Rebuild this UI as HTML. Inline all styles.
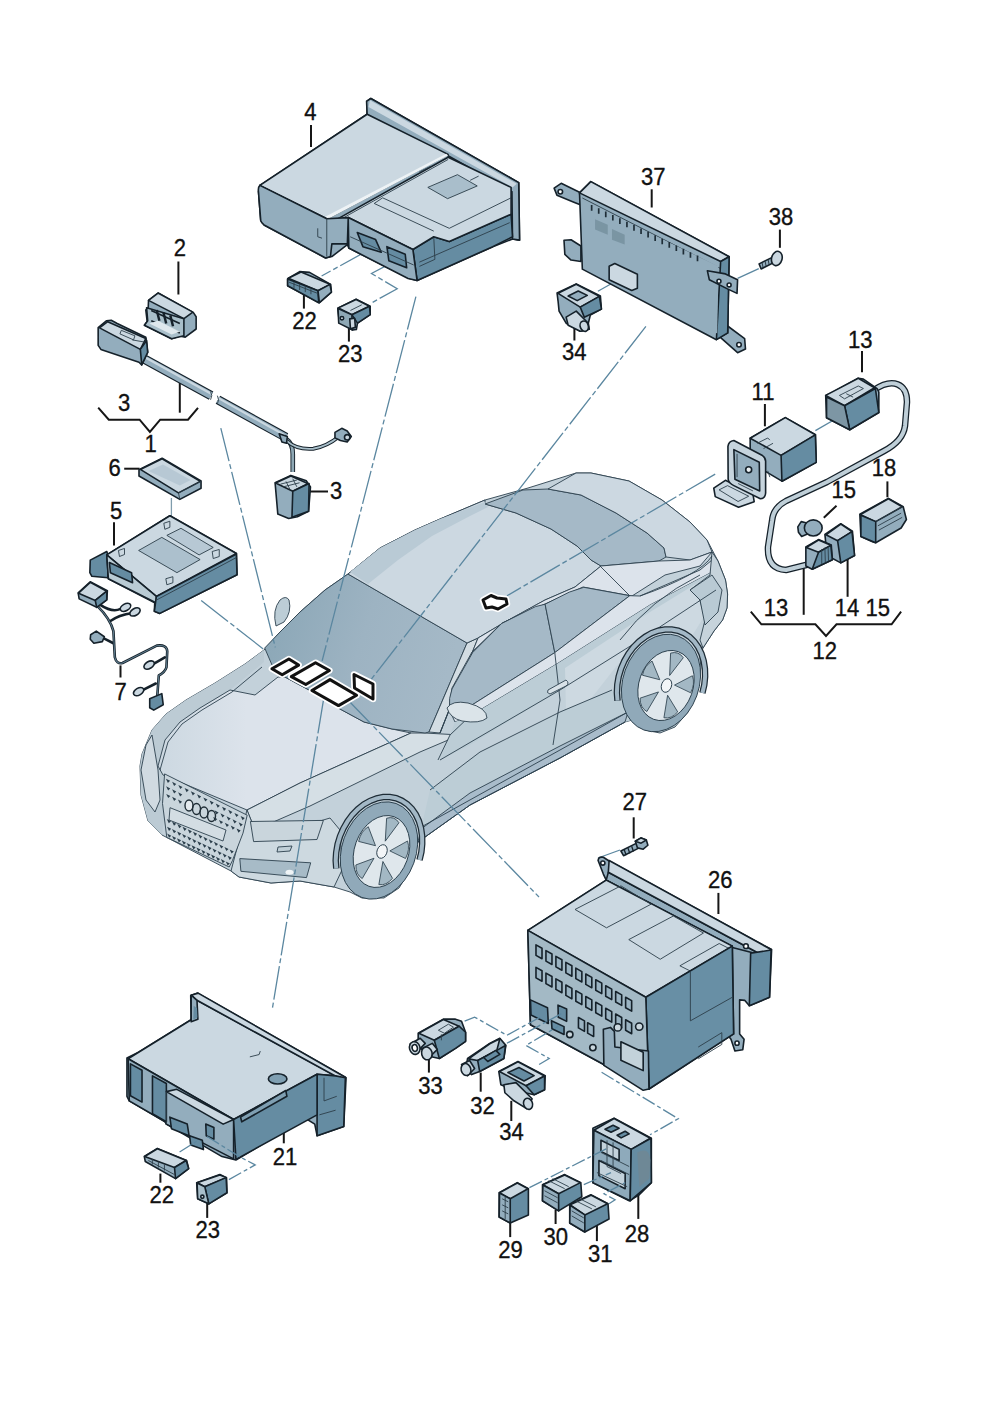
<!DOCTYPE html>
<html><head><meta charset="utf-8"><style>
html,body{margin:0;padding:0;background:#fff;}
body{width:992px;height:1403px;overflow:hidden;position:relative;}
svg{position:absolute;left:0;top:0;}
text{font-family:"Liberation Sans",sans-serif;font-size:24px;fill:#111;stroke:#111;stroke-width:0.35px;}
.o{stroke:#15212a;stroke-width:1.6;stroke-linejoin:round;vector-effect:non-scaling-stroke;}
.t{stroke:#2c3e4a;stroke-width:0.9;fill:none;vector-effect:non-scaling-stroke;}
.L{fill:#cbd8e1;}
.M{fill:#93adbd;}
.D{fill:#658ca2;}
.K{fill:#5f7785;}
.c{stroke:#2d414e;stroke-width:0.9;stroke-linejoin:round;}
.ld{stroke:#111;stroke-width:2;fill:none;}
.dl{stroke:#5f8ea5;stroke-width:1.2;fill:none;stroke-dasharray:28 4 3 4;}
</style></head><body>
<svg width="992" height="1403" viewBox="0 0 992 1403">
<g id="car">
<defs>
<linearGradient id="ws" x1="0" y1="0" x2="1" y2="0.25"><stop offset="0" stop-color="#88a5b5"/><stop offset="0.55" stop-color="#9db3c2"/><stop offset="1" stop-color="#a5b9c7"/></linearGradient>
<linearGradient id="hood" x1="0" y1="0" x2="1" y2="0"><stop offset="0" stop-color="#ccd8e1"/><stop offset="0.35" stop-color="#dce3eb"/><stop offset="1" stop-color="#dce3eb"/></linearGradient>
</defs>
<!-- silhouette -->
<path class="c" fill="#c3d1da" d="M141,795 L140,766 L142,754 L152,730 L166,714 L186,700 L215,683 L245,664 L264,650 L280,632 L300,612 L325,590 L348,574 L380,548 L415,530 L440,519 L485,500 L528,488 L576,473 L591,473 L629,481 L662,500 L690,522 L707,540 L718,561 L725.5,580 L727.6,594 L727,608 L722.6,620 L714,631 L703,648 L700,658 L701,668 L697,690 L688,712 L675,727 L660,733 L645,730 L632,720 L625,722 L560,758 L470,805 L418,842 L416,850 L410,870 L399,888 L384,898 L362,898 L350,892 L334,887 L300,881 L271,883 L239,877 L231,871 L162,835 L148,821 Z"/>
<!-- left fender -->
<path fill="#bccbd4" d="M141,795 L140,766 L142,754 L152,730 L166,714 L186,700 L215,683 L245,664 L264,650 L264,662 L230,690 L200,708 L180,722 L165,740 L158,766 L163,775 L166,800 L162,835 L148,821 Z"/>
<!-- hood -->
<path class="c" fill="url(#hood)" d="M163,775 L158,766 L165,740 L180,722 L200,708 L230,690 L255,695 L278,677 L285,677 L309,690 L340,709 L364,722 L392,729 L411,733 L300,783 L247,810 Z"/>
<path class="c" fill="none" d="M160,770 L168,742 L182,724 L202,710 L232,692 L262,667"/>
<!-- fender top strip (right of hood) -->
<path class="c" fill="#d5dfe5" d="M247,810 L300,783 L411,733 L425,733 L460,735 L420,752 L310,806 L255,830 Z"/>
<!-- windshield -->
<path class="c" fill="url(#ws)" d="M264.7,648 L280,632 L300,612 L325,590 L348,574 L467,643 L429,732 L425,733 L392,729 L364,722 L340,709 L309,690 L285,677 L272,665 Z"/>
<!-- a-pillar right -->
<path class="c" fill="#d3dde3" d="M467,643 L478,638 L440,733 L429,732 Z"/>
<!-- roof -->
<path class="c" fill="#ccd8e1" d="M348,574 L380,548 L415,530 L440,519 L485,500 L485,504 L516,513 L551,529 L577,546 L591,560 L601,566 L575,587 L545,600 L505,622 L478,638 L467,643 Z"/>
<path fill="#b9cad5" d="M350,572 L380,548 L415,530 L440,519 L485,502 L488,507 L470,516 L432,536 L398,560 L368,584 Z"/>
<!-- rear window -->
<path class="c" fill="#a5b9c7" d="M485,504 L523,490 L548,489 L581,495 L616,513 L647,533 L664,548 L666,557 L659,561 L601,566 L591,560 L577,546 L551,529 L516,513 Z"/>
<!-- trunk -->
<path class="c" fill="#ccd8e1" d="M576,473 L591,473 L629,481 L662,500 L690,522 L707,540 L712,552 L690,560 L666,557 L664,548 L647,533 L616,513 L581,495 L548,489 Z"/>
<!-- roof rail / upper side strip -->
<path class="c" fill="#dce3eb" d="M478,638 L505,622 L545,600 L575,587 L601,566 L659,561 L690,560 L712,552 L700,566 L665,575 L632,596 L583,587 L545,604 L502,623 L472,652 L452,688 L449,710 L440,733 Z"/>
<!-- side windows -->
<path class="c" fill="#a5b9c7" d="M449.6,698.5 L452,689 L472.6,652.6 L501.6,623.5 L535.5,606.6 L545.1,604.2 L554.8,652.6 L472.6,704.6 L449.6,710.6 Z"/>
<path class="c" fill="#a5b9c7" d="M545.1,604.2 L569.3,592.1 L583.8,587.3 L629.8,595.7 L554.8,652.6 Z"/>
<!-- belt strip -->
<path class="c" fill="#dce3eb" d="M449.6,710.6 L472.6,704.6 L554.8,652.6 L629.8,595.7 L640,596 L700,570 L712,560 L712,572 L650,605 L560,662 L470,716 L455,722 Z"/>
<!-- door / side panel -->
<path fill="#bccdd6" d="M455,722 L470,716 L560,662 L650,605 L712,572 L716,590 L690,612 L640,640 L560,690 L470,745 L440,760 Z"/>
<path fill="#cdd9e1" d="M565,668 L650,612 L712,574 L718,590 L705,615 L692,636 L670,630 L640,640 L615,668 L590,700 L566,712 Z"/>
<!-- lower side -->
<path fill="#bccdd6" d="M418,842 L470,805 L560,758 L625,722 L632,720 L622,700 L612,690 L560,712 L480,752 L430,790 Z"/>
<path class="c" fill="#a9bccb" d="M418,842 L470,805 L560,758 L625,722 L628,712 L560,746 L470,793 L421,829 Z"/>
<!-- rear end -->
<path class="c" fill="#c6d3db" d="M712,552 L718,561 L725.5,580 L727.6,594 L727,608 L722.6,620 L714,631 L703,648 L700,640 L705,620 L700,600 L690,590 L710,575 Z"/>
<path class="c" fill="#b9cad4" d="M690,590 L712,575 L722,590 L718,612 L705,625 L700,600 Z"/>
<!-- body lines -->
<path class="c" fill="none" d="M440,760 L560,690 L640,640 L716,590 M430,790 L480,752 L560,712 L612,690 M418,842 L470,805 L560,758 L625,722 M423,826 L560,750 L628,712 M554.8,652.6 L560,700 L553,745 M470,716 L450,735 L438,760 M600,566 L630,596 M640,596 Q700,575 712,556 M620,640 Q650,600 700,575"/>
<!-- door handle -->
<path class="c" fill="#d9e2e8" d="M548,690 L566,680 Q570,683 566,686 L550,694 Q546,693 548,690 Z"/>
<!-- front bumper area -->
<path class="c" fill="#cdd9e0" d="M247,810 L255,830 L320,821 L330,818 L340,830 L342,870 L334,887 L300,881 L271,883 L239,877 L231,871 Z"/>
<!-- grille -->
<path class="c" fill="#c9d5dc" d="M164.6,773.9 L247.2,815.2 L243,833.1 L232.4,860.7 L229.2,867 L166.8,837.4 L162.5,803.5 Z"/>
<path fill="#2c3f4c" d="M165.9,778.7 L170.1,780.8 L167.9,782.9 Z M172.1,781.8 L176.3,783.9 L174.1,786.0 Z M178.3,784.9 L182.5,787.0 L180.3,789.1 Z M184.6,788.0 L188.8,790.1 L186.6,792.2 Z M190.8,791.2 L195.0,793.3 L192.8,795.4 Z M197.0,794.3 L201.2,796.4 L199.0,798.5 Z M203.3,797.4 L207.5,799.5 L205.3,801.6 Z M209.5,800.5 L213.7,802.6 L211.5,804.7 Z M215.7,803.6 L219.9,805.7 L217.7,807.8 Z M222.0,806.7 L226.2,808.8 L224.0,810.9 Z M228.2,809.8 L232.4,811.9 L230.2,814.0 Z M234.4,812.9 L238.6,815.0 L236.4,817.1 Z M240.6,816.0 L244.8,818.1 L242.6,820.2 Z M166.1,786.3 L170.3,788.4 L168.1,790.5 Z M172.1,789.3 L176.3,791.4 L174.1,793.5 Z M178.1,792.3 L182.3,794.4 L180.1,796.5 Z M214.4,810.3 L218.6,812.4 L216.4,814.5 Z M220.4,813.3 L224.6,815.4 L222.4,817.5 Z M226.5,816.3 L230.7,818.4 L228.5,820.5 Z M232.5,819.3 L236.7,821.4 L234.5,823.5 Z M238.6,822.3 L242.8,824.4 L240.6,826.5 Z M166.2,793.9 L170.4,796.0 L168.2,798.1 Z M172.1,796.8 L176.3,798.9 L174.1,801.0 Z M177.9,799.6 L182.1,801.7 L179.9,803.8 Z M213.1,817.0 L217.3,819.1 L215.1,821.2 Z M218.9,819.9 L223.1,822.0 L220.9,824.1 Z M224.8,822.8 L229.0,824.9 L226.8,827.0 Z M230.7,825.6 L234.9,827.7 L232.7,829.8 Z M236.5,828.5 L240.7,830.6 L238.5,832.7 Z M166.8,819.1 L171.0,821.2 L168.8,823.3 Z M172.0,821.6 L176.2,823.7 L174.0,825.8 Z M177.3,824.1 L181.5,826.2 L179.3,828.3 Z M182.5,826.7 L186.7,828.8 L184.5,830.9 Z M187.7,829.2 L191.9,831.3 L189.7,833.4 Z M193.0,831.7 L197.2,833.8 L195.0,835.9 Z M198.2,834.3 L202.4,836.4 L200.2,838.5 Z M203.4,836.8 L207.6,838.9 L205.4,841.0 Z M208.7,839.3 L212.9,841.4 L210.7,843.5 Z M213.9,841.8 L218.1,843.9 L215.9,846.0 Z M219.2,844.4 L223.4,846.5 L221.2,848.6 Z M224.4,846.9 L228.6,849.0 L226.4,851.1 Z M229.6,849.4 L233.8,851.5 L231.6,853.6 Z M167.0,826.7 L171.2,828.8 L169.0,830.9 Z M172.0,829.1 L176.2,831.2 L174.0,833.3 Z M177.1,831.5 L181.3,833.6 L179.1,835.7 Z M182.1,833.9 L186.3,836.0 L184.1,838.1 Z M187.2,836.3 L191.4,838.4 L189.2,840.5 Z M192.2,838.8 L196.4,840.9 L194.2,843.0 Z M197.3,841.2 L201.5,843.3 L199.3,845.4 Z M202.3,843.6 L206.5,845.7 L204.3,847.8 Z M207.4,846.0 L211.6,848.1 L209.4,850.2 Z M212.4,848.4 L216.6,850.5 L214.4,852.6 Z M217.5,850.9 L221.7,853.0 L219.5,855.1 Z M222.5,853.3 L226.7,855.4 L224.5,857.5 Z M227.6,855.7 L231.8,857.8 L229.6,859.9 Z M167.1,833.6 L171.3,835.7 L169.1,837.8 Z M172.0,835.9 L176.2,838.0 L174.0,840.1 Z M176.9,838.2 L181.1,840.3 L178.9,842.4 Z M181.8,840.6 L186.0,842.7 L183.8,844.8 Z M186.6,842.9 L190.8,845.0 L188.6,847.1 Z M191.5,845.2 L195.7,847.3 L193.5,849.4 Z M196.4,847.5 L200.6,849.6 L198.4,851.7 Z M201.3,849.8 L205.5,851.9 L203.3,854.0 Z M206.2,852.2 L210.4,854.3 L208.2,856.4 Z M211.0,854.5 L215.2,856.6 L213.0,858.7 Z M215.9,856.8 L220.1,858.9 L217.9,861.0 Z M220.8,859.1 L225.0,861.2 L222.8,863.3 Z M225.7,861.4 L229.9,863.5 L227.7,865.6 Z"/>
<path class="c" fill="#d3dde3" d="M170,807.7 L226,830 L223,841 L169,820 Z"/>
<g fill="none" stroke="#1f2d36" stroke-width="1.4">
<ellipse cx="189" cy="805.5" rx="4" ry="5.5" fill="#e4eaee"/><ellipse cx="196.5" cy="809" rx="4" ry="5.5"/><ellipse cx="204" cy="812.5" rx="4" ry="5.5"/><ellipse cx="211.5" cy="816" rx="4" ry="5.5"/>
</g>
<!-- headlight -->
<path class="c" fill="#c9d5dc" d="M250.4,821.5 L323.4,820.4 L317,839.5 L253.6,841.6 Z"/>
<path class="c" fill="#a7bbc7" d="M239.8,858.6 L310.7,862.8 L306.5,877.6 L240.9,871.3 Z"/>
<ellipse cx="289.5" cy="872.3" rx="4" ry="2.5" fill="#f0f4f6"/>
<path class="c" fill="#c0cfd7" d="M278,847 L292,846 L290,851 L277,852 Z"/>
<!-- left side lamp -->
<path class="c" fill="#d0dae1" d="M141,770 L146,745 L152,735 L158,770 L160,800 L155,812 L146,800 Z"/>
<!-- mirrors -->
<path class="c" fill="#bccdd6" d="M276,626 Q272,610 280,600 Q286,595 289,600 Q292,612 284,622 Z"/>
<path class="c" fill="#dbe4e9" d="M447,708 Q452,700 468,703 Q487,708 487,718 Q480,724 462,721 Q450,718 447,708 Z"/>
<path d="M336.3,868.5 L335.7,860.6 L336.2,852.5 L337.6,844.3 L340.0,836.3 L343.3,828.6 L347.5,821.4 L352.3,814.9 L357.8,809.2 L363.8,804.5 L370.2,800.9 L376.7,798.4 L383.3,797.1 L389.8,797.0 L396.1,798.2 L401.9,800.7 L407.3,804.3 L411.9,808.9 L415.8,814.5 L418.9,821.0 L421.0,828.2 L422.1,835.8 L422.2,843.8 L421.4,852.0 L419.5,860.1" fill="none" stroke="#1e2c36" stroke-width="6.5"/>
<path d="M336.3,868.5 L335.7,860.6 L336.2,852.5 L337.6,844.3 L340.0,836.3 L343.3,828.6 L347.5,821.4 L352.3,814.9 L357.8,809.2 L363.8,804.5 L370.2,800.9 L376.7,798.4 L383.3,797.1 L389.8,797.0 L396.1,798.2 L401.9,800.7 L407.3,804.3 L411.9,808.9 L415.8,814.5 L418.9,821.0 L421.0,828.2 L422.1,835.8 L422.2,843.8 L421.4,852.0 L419.5,860.1" fill="none" stroke="#a3b8c6" stroke-width="4"/>
<path d="M617.5,700.7 L616.9,692.8 L617.3,684.7 L618.7,676.5 L621.1,668.5 L624.4,660.8 L628.6,653.6 L633.5,647.1 L639.1,641.4 L645.2,636.8 L651.6,633.1 L658.3,630.7 L665.0,629.5 L671.7,629.5 L678.1,630.7 L684.0,633.2 L689.5,636.8 L694.3,641.5 L698.3,647.2 L701.5,653.7 L703.7,660.9 L704.9,668.6 L705.1,676.7 L704.3,684.8 L702.4,693.0" fill="none" stroke="#1e2c36" stroke-width="6.5"/>
<path d="M617.5,700.7 L616.9,692.8 L617.3,684.7 L618.7,676.5 L621.1,668.5 L624.4,660.8 L628.6,653.6 L633.5,647.1 L639.1,641.4 L645.2,636.8 L651.6,633.1 L658.3,630.7 L665.0,629.5 L671.7,629.5 L678.1,630.7 L684.0,633.2 L689.5,636.8 L694.3,641.5 L698.3,647.2 L701.5,653.7 L703.7,660.9 L704.9,668.6 L705.1,676.7 L704.3,684.8 L702.4,693.0" fill="none" stroke="#a3b8c6" stroke-width="4"/>
<!-- front wheel -->
<ellipse class="c" cx="379" cy="850.5" rx="37" ry="50" fill="#90a9b9" transform="rotate(20 379 850.5)"/>
<ellipse class="c" cx="381.5" cy="851.5" rx="27" ry="37" fill="#dfe7ec" transform="rotate(20 381.5 851.5)"/>
<g transform="translate(381.5 851.5) rotate(20) scale(0.73 1)">
<g fill="#a3b8c4" class="c">
<path d="M0,-11 L-9,-33 Q0,-38 9,-33 Z"/>
<path d="M0,-11 L-9,-33 Q0,-38 9,-33 Z" transform="rotate(72)"/>
<path d="M0,-11 L-9,-33 Q0,-38 9,-33 Z" transform="rotate(144)"/>
<path d="M0,-11 L-9,-33 Q0,-38 9,-33 Z" transform="rotate(216)"/>
<path d="M0,-11 L-9,-33 Q0,-38 9,-33 Z" transform="rotate(288)"/>
</g></g>
<ellipse class="c" cx="382" cy="851.5" rx="5" ry="7" fill="#f2f5f7" transform="rotate(20 382 851.5)"/>
<!-- rear wheel -->
<ellipse class="c" cx="661" cy="683" rx="38" ry="50" fill="#90a9b9" transform="rotate(20 661 683)"/>
<ellipse class="c" cx="666" cy="685.5" rx="27" ry="36" fill="#dfe7ec" transform="rotate(20 666 685.5)"/>
<g transform="translate(666 685.5) rotate(20) scale(0.75 0.97)">
<g fill="#a3b8c4" class="c">
<path d="M0,-11 L-9,-33 Q0,-38 9,-33 Z"/>
<path d="M0,-11 L-9,-33 Q0,-38 9,-33 Z" transform="rotate(72)"/>
<path d="M0,-11 L-9,-33 Q0,-38 9,-33 Z" transform="rotate(144)"/>
<path d="M0,-11 L-9,-33 Q0,-38 9,-33 Z" transform="rotate(216)"/>
<path d="M0,-11 L-9,-33 Q0,-38 9,-33 Z" transform="rotate(288)"/>
</g></g>
<ellipse class="c" cx="666.5" cy="685.5" rx="5" ry="7" fill="#f2f5f7" transform="rotate(20 666.5 685.5)"/>
</g>

<g id="leaders" stroke="#161616" stroke-width="2" fill="none" stroke-linejoin="miter">
<path d="M311.0,125.0 L311.0,147.0"/>
<path d="M178.4,261.5 L178.4,294.5"/>
<path d="M303.9,292.0 L303.9,308.6"/>
<path d="M348.9,319.2 L348.9,341.6"/>
<path d="M651.7,189.3 L651.7,207.5"/>
<path d="M779.9,229.6 L779.9,247.8"/>
<path d="M574.4,325.0 L574.4,340.5"/>
<path d="M98.2,407.6 L108.8,419.7 L139.6,419.7 L149.9,432.0 L160.2,419.7 L188.0,419.7 L198.0,407.8"/>
<path d="M179.8,381.8 L179.8,412.7"/>
<path d="M124.2,468.7 L139.6,468.7"/>
<path d="M114.0,522.3 L114.0,545.4"/>
<path d="M120.5,665.4 L120.5,677.5"/>
<path d="M309.4,491.5 L328.0,491.5"/>
<path d="M862.0,350.9 L862.0,372.3"/>
<path d="M764.9,404.0 L764.9,426.3"/>
<path d="M887.4,481.4 L887.4,497.3"/>
<path d="M836.5,505.7 L823.8,517.8"/>
<path d="M803.7,568.2 L803.7,614.8"/>
<path d="M847.6,557.6 L847.6,596.8"/>
<path d="M750.8,611.6 L761.4,624.3 L815.4,624.3 L826.0,635.9 L836.5,624.3 L891.6,624.3 L901.1,611.6"/>
<path d="M633.7,817.3 L633.7,838.5"/>
<path d="M718.4,892.9 L718.4,914.0"/>
<path d="M428.9,1058.5 L428.9,1072.6"/>
<path d="M480.7,1072.6 L480.7,1091.7"/>
<path d="M511.3,1100.8 L511.3,1121.0"/>
<path d="M283.8,1129.2 L283.8,1143.3"/>
<path d="M160.4,1173.6 L160.4,1182.7"/>
<path d="M207.2,1201.8 L207.2,1217.9"/>
<path d="M510.2,1222.0 L510.2,1237.1"/>
<path d="M555.6,1209.9 L555.6,1224.0"/>
<path d="M596.9,1224.0 L596.9,1241.1"/>
<path d="M638.3,1194.8 L638.3,1218.9"/>
</g>
<g id="dashes" stroke="#5b87a0" stroke-width="1.3" fill="none" stroke-dasharray="34 3 5 3">
<path d="M220.8,428.2 L275.3,647.4"/>
<path d="M415.9,296.6 L322.1,661.0"/>
<path d="M201.2,600.5 L263.2,648.9"/>
<path d="M645.9,326.4 L369.0,682.2"/>
<path d="M715.2,474.1 L507.0,595.8"/>
<path d="M347.7,699.8 L539.0,897.0"/>
<path d="M323.5,699.8 L272.4,1008.4"/>
<path d="M370.0,249.3 L321.6,276.0"/>
<path d="M397.2,259.9 L371.5,273.5 L397.2,288.7 L370.0,303.8"/>
<path d="M623.3,277.0 L597.9,291.2"/>
<path d="M737.6,278.4 L758.8,268.6"/>
<path d="M815.4,430.6 L837.7,417.7"/>
<path d="M598.0,858.0 L620.0,850.0"/>
<path d="M171.4,498 L171.4,556" stroke-dasharray="none" stroke="#7f9cac"/>
</g>
<!--LEADERS-->
<g id="box4" transform="translate(250,90) scale(0.28226)">
<path class="o M" d="M35,338 L415,86 L415,40 L428,30 L952,328 L955,532 L930,528 L860,555 L800,582 L592,675 L565,668 L350,560 L345,548 L290,590 L268,595 L50,478 L38,462 L30,360 Z"/>
<!-- flange -->
<path class="o M" d="M413,40 L428,30 L952,328 L955,532 L930,528 L928,360 L700,232 L415,88 Z"/>
<path class="L" d="M425,36 L945,332 L930,345 L420,60 Z"/>
<!-- right lower faces -->
<path class="o D" d="M577,565 L651,520 L706,537 L925,440 L930,520 L860,555 L800,582 L592,675 Z"/>
<path class="t" d="M600,610 L920,470 M651,520 L655,600 L600,625"/>
<!-- light top region right of upper box -->
<path class="o L" d="M290,468 L702,238 L925,345 L925,440 L706,537 L651,520 L577,565 L348,452 Z"/>
<path class="t" d="M440,402 L651,500 M470,382 L706,490 L925,382 M470,382 L440,402 M702,246 L300,470"/>
<path class="t" d="M348,452 L577,565"/>
<path class="M" d="M630,345 L735,300 L805,340 L700,385 Z" opacity="0.6"/>
<path class="t" d="M630,345 L735,300 L805,340 L700,385 Z M600,290 L640,270 M780,320 L810,305"/>
<!-- drawer front -->
<path class="o M" d="M348,452 L577,565 L592,675 L560,668 L350,560 Z"/>
<path class="o D" d="M380,505 L445,530 L465,575 L400,555 Z"/>
<path class="o D" d="M485,555 L550,582 L555,630 L492,605 Z"/>
<path class="t" d="M355,520 L580,620"/>
<!-- upper box top -->
<path class="o L" d="M35,338 L415,86 L702,228 L272,456 Z"/>
<path fill="#eef3f6" d="M268,448 L695,226 L702,232 L275,458 Z"/>
<!-- upper box front -->
<path class="o M" d="M35,338 Q28,345 30,360 L38,462 Q40,472 50,478 L268,595 L285,590 L290,545 L345,545 L348,452 L272,456 Z"/>
<path class="t" d="M272,456 L272,590 M240,490 L240,520 L255,525"/>
</g>


<g id="p2" transform="translate(90,280) scale(0.27218)">
<!-- part 2 -->
<path class="o M" d="M215,75 L250,48 L380,120 L390,135 L390,180 L350,210 L330,206 L300,216 L200,166 L210,152 L205,110 L214,100 Z"/>
<path class="o L" d="M215,75 L250,48 L378,118 L345,142 Z"/>
<path class="o" fill="#a9bfca" d="M208,102 L345,142 L345,205 L300,216 L200,166 L212,150 Z"/>
<path d="M225,112 L330,160 M225,150 L330,195" stroke="#15212a" stroke-width="6" fill="none"/><path d="M245,110 L255,150 M270,120 L280,160 M295,130 L305,170" stroke="#15212a" stroke-width="9" fill="none"/>
<path fill="#dfe8ed" d="M218,160 L300,200 L330,190 L250,150 Z"/>
<!-- cable -->
<path d="M190,285 L445,425 M470,440 L720,578" stroke="#15212a" stroke-width="34" fill="none" stroke-linecap="butt"/>
<path d="M190,285 L445,425 M470,440 L720,578" stroke="#93adbd" stroke-width="26" fill="none"/>
<path d="M195,280 L445,418 M470,433 L715,570" stroke="#cbd8e1" stroke-width="8" fill="none"/>
<path d="M443,410 Q452,425 443,440 M468,425 Q477,440 468,455" class="t" stroke-width="1.4"/>
<!-- branches -->
<path d="M722,585 Q745,600 745,640 L745,705" stroke="#15212a" stroke-width="17" fill="none"/>
<path d="M722,585 Q745,600 745,640 L745,705" stroke="#8ea8b5" stroke-width="10" fill="none"/>
<path d="M722,590 Q760,625 820,620 Q870,612 915,575" stroke="#15212a" stroke-width="14" fill="none"/>
<path d="M722,590 Q760,625 820,620 Q870,612 915,575" stroke="#a9bfca" stroke-width="7" fill="none"/>
<path class="o M" d="M695,565 L725,575 L722,600 L705,595 Z"/>
<path class="o M" d="M900,560 L925,545 L945,555 L960,575 L945,595 L920,590 L900,580 Z"/>
<circle class="o L" cx="945" cy="578" r="10"/>
<!-- cable 1 connector -->
<path class="o M" d="M30,175 L60,150 L78,148 L100,160 L205,210 L212,265 L190,312 L180,302 L40,255 L30,240 Z"/>
<path class="o L" d="M35,176 L65,153 L205,215 L185,255 Z"/>
<path class="o D" d="M185,255 L208,222 L212,266 L190,312 Z"/>
<path class="t" d="M115,185 L165,205 L160,220 L110,198 Z M155,220 L200,228"/>
<!-- connector 3 -->
<path class="o M" d="M680,745 L738,718 L795,738 L810,760 L803,850 L762,870 L730,876 L690,860 Z"/>
<path class="o L" d="M682,746 L738,720 L800,748 L745,776 Z"/>
<path class="o D" d="M745,776 L805,748 L803,850 L742,872 Z"/>
<path class="t" d="M700,750 L760,735 M710,760 L770,745 M720,740 L735,770 M745,730 L760,760"/>
<!-- part 6 card -->
<path class="o M" d="M180,697 L265,655 L408,738 L408,765 L330,806 L180,720 Z"/>
<path class="o L" d="M185,696 L265,657 L405,740 L325,782 Z"/>
<path class="M" d="M215,702 L268,678 L370,735 L330,755 Z" opacity="0.35"/>
<path class="t" d="M325,782 L330,806 M325,782 L408,740"/>
</g>

<g id="p5" transform="translate(60,490) scale(0.2016)">
<!-- left flange -->
<path class="o D" d="M150,348 L232,305 L240,330 L238,435 L158,428 L148,410 Z"/>
<!-- box silhouette -->
<path class="o M" d="M232,322 L545,128 L875,315 L878,420 L495,612 L468,602 L470,560 L240,440 Z"/>
<!-- top face -->
<path class="o L" d="M232,322 L545,128 L875,315 L478,528 Z"/>
<path class="M" d="M390,300 L505,235 L695,345 L580,410 Z" opacity="0.55"/>
<path class="t" d="M390,300 L505,235 L695,345 L580,410 Z"/>
<path class="M" d="M530,225 L600,190 L760,285 L690,322 Z" opacity="0.35"/>
<path class="t" d="M530,225 L600,190 L760,285 L690,322 Z"/>
<!-- front face -->
<path class="o" fill="#b9cbd4" d="M232,322 L478,528 L478,560 L240,440 Z"/>
<path class="o D" d="M245,360 L355,410 L360,460 L250,410 Z"/>
<!-- right flange face -->
<path class="o D" d="M478,528 L875,318 L878,420 L495,612 L468,602 Z"/>
<path class="t" d="M480,545 L875,335"/>
<!-- feet marks -->
<g><path class="t" d="M290,300 L320,290 L320,320 L295,330 Z M515,165 L545,155 L545,185 L520,195 Z M755,305 L790,295 L790,330 L760,340 Z M525,440 L560,430 L560,460 L530,470 Z"/></g>
<!-- leader vertical line 6 to 5 -->

</g>
<g id="p7" transform="translate(60,490) scale(0.2016)">
<!-- harness wires -->
<g fill="none" stroke="#15212a" stroke-width="13" stroke-linecap="round" stroke-linejoin="round">
<path d="M185,575 Q250,640 265,700 L272,830 Q280,865 310,858 L480,772 Q530,765 532,800 L528,880 Q520,905 490,920 L482,1030"/>
<path d="M200,570 Q260,610 300,590"/>
<path d="M250,650 Q290,620 360,610"/>
<path d="M265,760 L215,735"/>
<path d="M520,830 L460,865"/>
<path d="M475,960 L405,995"/>
</g>
<g fill="none" stroke="#5f7d8e" stroke-width="5" stroke-linecap="round" stroke-linejoin="round">
<path d="M185,575 Q250,640 265,700 L272,830 Q280,865 310,858 L480,772 Q530,765 532,800 L528,880 Q520,905 490,920 L482,1030"/>
</g>
<!-- main connector -->
<path class="o M" d="M90,510 L150,455 L235,500 L232,545 L182,582 L95,540 Z"/>
<path class="o L" d="M92,512 L150,458 L232,502 L175,548 Z"/>
<path class="o D" d="M175,548 L232,502 L232,545 L182,582 Z"/>
<!-- small connectors -->
<ellipse class="o L" cx="325" cy="582" rx="28" ry="17" transform="rotate(-30 325 582)"/>
<ellipse class="o L" cx="372" cy="605" rx="28" ry="17" transform="rotate(-30 372 605)"/>
<ellipse class="o L" cx="442" cy="868" rx="28" ry="17" transform="rotate(-30 442 868)"/>
<ellipse class="o L" cx="390" cy="1000" rx="28" ry="17" transform="rotate(-30 390 1000)"/>
<path class="o M" d="M152,718 L180,700 L220,728 L210,752 L168,760 L150,740 Z"/>
<path class="o D" d="M445,1035 L505,1010 L512,1065 L465,1092 L445,1080 Z"/>
</g>

<!-- windshield stickers -->
<g id="stickers" stroke-linejoin="round" fill="#fff"><g stroke="#fff" stroke-width="6.5"><path d="M271.9,668.7 L288.9,659 L298.6,665.1 L282.2,674.8 Z"/>
<path d="M291.3,676.6 L315.5,662.7 L329.4,670.5 L305.8,684.5 Z"/>
<path d="M311.9,690.5 L330,679.6 L356.6,695.3 L338.5,705.6 Z"/>
<path d="M354,674.5 L373,684 L373,699 L354.5,688 Z"/>
<path d="M483,600 L491,595.5 L497,598 L506,599 L507,604 L498,609 L492,607 L486,608 Z"/></g><g stroke="#111" stroke-width="3"><path d="M271.9,668.7 L288.9,659 L298.6,665.1 L282.2,674.8 Z"/>
<path d="M291.3,676.6 L315.5,662.7 L329.4,670.5 L305.8,684.5 Z"/>
<path d="M311.9,690.5 L330,679.6 L356.6,695.3 L338.5,705.6 Z"/>
<path d="M354,674.5 L373,684 L373,699 L354.5,688 Z"/>
<path d="M483,600 L491,595.5 L497,598 L506,599 L507,604 L498,609 L492,607 L486,608 Z"/></g></g>
<g id="p37" transform="translate(540,150) scale(0.28226)">
<!-- tabs -->
<path class="o M" d="M50,135 L75,118 L140,150 L145,195 L120,185 L60,160 Z"/>
<circle class="o" cx="72" cy="148" r="8" fill="#fff"/>
<path class="o M" d="M85,320 L110,318 L145,340 L145,395 L110,390 L88,370 Z"/>

<path class="o M" d="M630,610 L660,620 L725,668 L728,705 L700,718 L680,700 L635,660 Z"/>
<circle class="o" cx="705" cy="690" r="8" fill="#fff"/>
<!-- body -->
<path class="o M" d="M140,152 L180,112 L670,378 L665,648 L625,672 L150,422 Z"/>
<path class="o L" d="M140,152 L180,112 L670,378 L640,395 Z"/>
<path class="t" d="M150,170 L640,420"/>
<path class="o D" d="M640,395 L670,378 L665,648 L625,672 Z"/>
<path class="M" d="M152,180 L632,412 L628,650 L155,415 Z" fill="#a4bbc7"/>
<g stroke="#1e2d37" stroke-width="6" fill="none">
<path d="M183,195 L183,215 M208,206 L208,226 M233,218 L233,238 M258,230 L258,250 M283,242 L283,262 M308,254 L308,274 M333,266 L333,286 M358,278 L358,298 M383,290 L383,310 M408,302 L408,322 M433,314 L433,334 M458,326 L458,346 M483,338 L483,358 M508,350 L508,370 M533,362 L533,382 M558,374 L558,394"/>
<path class="o M" d="M593,428 L657,439 L700,460 L698,508 L664,492 L600,460 Z"/><circle class="o" cx="634" cy="465" r="7" fill="#fff"/><circle class="o" cx="670" cy="478" r="7" fill="#fff"/>
</g>
<path fill="#6f8a99" d="M195,245 L240,265 L240,300 L195,282 Z M255,280 L300,300 L300,335 L255,318 Z" opacity="0.7"/>
<!-- port -->
<path class="o L" d="M245,412 L265,402 L345,440 L345,490 L325,498 L245,460 Z"/>
</g>
<g id="p34a" transform="translate(550,170) scale(0.2016)">
<path class="o M" d="M35,610 L130,565 L250,625 L255,690 L200,720 L190,760 L195,790 L150,800 L80,760 L45,700 L40,650 Z"/>
<path class="o L" d="M40,612 L130,567 L245,627 L150,680 Z"/>
<path class="o M" d="M90,625 L140,600 L185,622 L135,648 Z"/>
<path class="o D" d="M150,680 L245,627 L255,690 L170,730 Z"/>
<path class="o L" d="M80,730 L130,700 L190,760 L185,795 L150,800 L90,770 Z"/>
<ellipse class="o L" cx="170" cy="775" rx="20" ry="26" transform="rotate(-20 170 775)"/>
</g>
<g id="p38" transform="translate(620,150) scale(0.2016)">
<path class="o M" d="M690,565 L760,530 L770,555 L700,590 Z"/>
<g stroke="#15212a" stroke-width="4" fill="none"><path d="M705,560 L710,585 M720,552 L725,578 M735,545 L740,570 M750,538 L755,562"/></g>
<ellipse class="o L" cx="778" cy="538" rx="26" ry="36" transform="rotate(15 778 538)"/>
</g>

<!-- cable loop 12 -->
<path d="M874,390 C893,377 907,384 907,402 L905,426 Q903,441 884,451 L827,482 L786,501 Q773,508 772,521 L768,547 Q767,569 786,570 L810,564" stroke="#15212a" stroke-width="6.5" fill="none" stroke-linejoin="round"/>
<path d="M874,390 C893,377 907,384 907,402 L905,426 Q903,441 884,451 L827,482 L786,501 Q773,508 772,521 L768,547 Q767,569 786,570 L810,564" stroke="#bfcfd8" stroke-width="4" fill="none" stroke-linejoin="round"/>
<g id="p13t" transform="translate(740,320) scale(0.1714)">
<path class="o M" d="M500,440 L545,420 L690,340 L720,345 L800,400 L810,420 L810,540 L640,640 L505,570 Z"/>
<path class="o L" d="M500,440 L690,340 L785,395 L610,500 Z"/>
<path class="o D" d="M610,500 L790,400 L810,540 L640,640 Z"/>
<path class="o" fill="#7d96a4" d="M505,450 L610,500 L640,640 L505,570 Z"/>
<path class="t" d="M580,440 L690,385 L720,400 L610,460 Z M620,430 L660,450"/>
</g>
<g id="p11" transform="translate(700,420) scale(0.2117)">
<path class="o M" d="M237,86 L403,-11 L545,70 L549,200 L387,289 L237,200 Z"/>
<path class="o L" d="M237,86 L403,-11 L545,70 L383,167 Z"/>
<path class="o D" d="M383,167 L545,70 L549,200 L387,289 Z"/>
<path class="t" d="M270,110 L320,85 L330,95 M300,135 L345,110 M320,240 L330,270"/>
<!-- foot -->
<path class="o L" d="M65,322 L120,285 L250,350 L256,386 L182,412 L72,362 Z"/>
<path class="t" d="M90,330 L130,310 L230,360 L180,385 Z"/>
<!-- frame -->
<path class="o" fill="#c6d4dd" d="M132,125 Q135,100 160,97 L295,168 Q310,178 310,195 L310,345 Q308,372 285,372 L160,310 Q135,298 133,280 Z"/>
<path class="o M" d="M160,140 L280,200 L282,335 L165,280 Z"/>
<circle class="o" cx="230" cy="235" r="14" fill="#eef2f4"/>
<path class="t" d="M175,160 L175,270 M180,300 L250,335"/>
</g>
<g id="p12parts" transform="translate(700,420) scale(0.2117)">
<!-- 15 bolt/washer -->
<path class="o M" d="M462,505 L478,480 L500,485 L505,540 L480,550 L465,530 Z"/>
<ellipse class="o M" cx="535" cy="510" rx="42" ry="38"/>
<!-- 14 -->
<path class="o M" d="M590,540 L665,490 L720,525 L730,640 L665,675 L600,640 Z"/>
<path class="o L" d="M595,542 L665,492 L718,527 L650,570 Z"/>
<path class="o D" d="M650,570 L718,527 L730,640 L665,675 Z"/>
<!-- 13 lower -->
<path class="o M" d="M500,600 L560,565 L620,590 L625,660 L530,705 L500,690 Z"/>
<path class="o L" d="M502,602 L560,567 L618,592 L560,625 Z"/>
<path class="o D" d="M560,625 L618,592 L625,660 L530,705 Z"/>
<path class="t" d="M575,610 L575,680 M590,602 L592,672 M605,597 L607,666"/>
<!-- 18 -->
<path class="o M" d="M755,445 L890,370 L960,410 L975,470 L950,510 L830,580 L815,575 L760,550 Z"/>
<path class="o L" d="M758,447 L890,372 L955,410 L830,480 Z"/>
<path class="o D" d="M760,450 L830,480 L830,580 L760,550 Z"/>
<path class="t" d="M830,480 L955,410 M840,500 L950,440 M845,520 L955,460"/>
</g>

<g id="p26" transform="translate(520,840) scale(0.2621)">
<!-- bracket -->
<path class="o M" d="M298,78 Q300,62 318,66 L340,80 L960,418 L952,600 L875,632 L858,612 L838,610 L838,740 L855,760 L850,800 L820,805 L805,760 L329,153 L318,130 Z"/>
<path class="o M" d="M337,123 L925,440 L810,410 L329,153 Z"/>
<path class="o L" d="M340,78 L958,418 L925,440 L337,123 Z"/>
<path class="o D" d="M880,432 L958,420 L952,600 L875,632 Z"/>
<circle class="o" cx="316" cy="88" r="8" fill="#fff"/>
<circle class="o" cx="862" cy="405" r="9" fill="#fff"/>
<circle class="o" cx="828" cy="775" r="8" fill="#fff"/>
<!-- box -->
<path class="o M" d="M30,345 L329,153 L810,405 L815,740 L492,950 L40,705 Z"/>
<path class="o L" d="M30,345 L329,153 L810,405 L480,600 Z"/>
<path class="t" d="M210,265 L385,175 L500,245 L330,335 Z M415,380 L585,290 L700,355 L535,455 Z M610,480 L760,395 L810,420 L650,500 Z"/>
<path class="o" fill="#688fa5" d="M480,600 L810,405 L815,740 L492,950 Z"/>
<path class="t" d="M650,500 L650,690 L810,600 M680,790 L770,735 L770,780 L680,835"/>
<path class="o" fill="#a3b9c5" d="M30,345 L480,600 L492,950 L40,705 Z"/>
<path class="o" fill="#9ab3c2" d="M61,400 l23,13 l0,40 l-23,-13 Z"/>
<path class="o" fill="#9ab3c2" d="M99,422 l23,13 l0,40 l-23,-13 Z"/>
<path class="o" fill="#9ab3c2" d="M137,444 l23,13 l0,40 l-23,-13 Z"/>
<path class="o" fill="#9ab3c2" d="M175,467 l23,13 l0,40 l-23,-13 Z"/>
<path class="o" fill="#9ab3c2" d="M213,489 l23,13 l0,40 l-23,-13 Z"/>
<path class="o" fill="#9ab3c2" d="M251,511 l23,13 l0,40 l-23,-13 Z"/>
<path class="o" fill="#9ab3c2" d="M289,533 l23,13 l0,40 l-23,-13 Z"/>
<path class="o" fill="#9ab3c2" d="M327,556 l23,13 l0,40 l-23,-13 Z"/>
<path class="o" fill="#9ab3c2" d="M365,578 l23,13 l0,40 l-23,-13 Z"/>
<path class="o" fill="#9ab3c2" d="M403,600 l23,13 l0,40 l-23,-13 Z"/>
<path class="o" fill="#9ab3c2" d="M61,486 l23,13 l0,40 l-23,-13 Z"/>
<path class="o" fill="#9ab3c2" d="M99,508 l23,13 l0,40 l-23,-13 Z"/>
<path class="o" fill="#9ab3c2" d="M137,530 l23,13 l0,40 l-23,-13 Z"/>
<path class="o" fill="#9ab3c2" d="M175,553 l23,13 l0,40 l-23,-13 Z"/>
<path class="o" fill="#9ab3c2" d="M213,575 l23,13 l0,40 l-23,-13 Z"/>
<path class="o" fill="#9ab3c2" d="M251,597 l23,13 l0,40 l-23,-13 Z"/>
<path class="o" fill="#9ab3c2" d="M289,619 l23,13 l0,40 l-23,-13 Z"/>
<path class="o" fill="#9ab3c2" d="M327,642 l23,13 l0,40 l-23,-13 Z"/>
<path class="o" fill="#9ab3c2" d="M365,664 l23,13 l0,40 l-23,-13 Z"/>
<path class="o" fill="#9ab3c2" d="M403,686 l23,13 l0,40 l-23,-13 Z"/>
<path class="o" fill="#9ab3c2" d="M223,677 l23,13 l0,40 l-23,-13 Z"/>
<path class="o" fill="#9ab3c2" d="M258,697 l23,13 l0,40 l-23,-13 Z"/>
<path class="o D" d="M40,610 L105,640 L108,700 L42,668 Z"/>
<path class="o D" d="M145,630 L178,645 L178,692 L146,676 Z"/>
<path class="o D" d="M120,690 L168,712 L168,742 L122,720 Z"/>
<circle class="o" cx="190" cy="742" r="12" fill="#c9d6dd"/>
<circle class="o" cx="278" cy="792" r="12" fill="#c9d6dd"/>
<circle class="o" cx="373" cy="715" r="14" fill="#c9d6dd"/>
<circle class="o" cx="455" cy="712" r="14" fill="#c9d6dd"/>
<path class="o M" d="M318,722 L345,715 L360,730 L362,790 L490,805 L492,950 L470,955 L320,860 Z"/>
<path class="o" fill="#c3d2da" d="M385,770 L470,810 L470,880 L385,840 Z"/>
</g>

<g id="p27" transform="translate(520,840) scale(0.2621)">
<path class="o M" d="M385,42 L445,12 L455,30 L395,60 Z"/>
<g stroke="#15212a" stroke-width="5" fill="none"><path d="M398,38 L405,58 M412,31 L419,51 M426,24 L433,44"/></g>
<path class="o M" d="M440,5 L462,-8 L482,0 L488,20 L470,35 L448,30 Z"/>
<path class="o L" d="M440,5 L462,-8 L482,0 L462,12 Z"/>
</g>
<g id="p33" transform="translate(395,1000) scale(0.2016)">
<path class="o M" d="M115,165 L240,95 L300,95 L330,105 L350,160 L350,205 L300,240 L220,290 L175,280 L115,230 Z"/>
<path class="o L" d="M118,165 L240,97 L318,130 L195,200 Z"/>
<path class="o D" d="M195,200 L318,130 L350,160 L350,205 L300,240 L220,290 Z"/>
<path class="t" d="M215,150 L265,120 L290,135 L245,165 Z M230,170 L230,200"/>
<path class="o L" d="M75,218 L125,190 L150,215 L105,262 Z"/>
<ellipse class="o L" cx="98" cy="238" rx="26" ry="32" transform="rotate(-15 98 238)"/>
<ellipse class="o" fill="#fff" cx="98" cy="238" rx="13" ry="17" transform="rotate(-15 98 238)"/>
<path class="o L" d="M135,240 L185,215 L210,245 L165,290 Z"/>
<ellipse class="o L" cx="158" cy="265" rx="26" ry="32" transform="rotate(-15 158 265)"/>
</g>
<g id="p32" transform="translate(395,1000) scale(0.2016)">
<path class="o M" d="M360,290 L470,215 L520,190 L550,225 L540,290 L420,355 L380,370 L350,345 Z"/>
<path class="o L" d="M365,292 L470,217 L520,192 L505,250 L410,300 Z"/>
<path class="o D" d="M505,250 L548,226 L540,290 L420,355 L410,300 Z"/>
<path class="o D" d="M440,285 L500,250 L520,270 L460,305 Z"/>
<path class="o L" d="M330,320 L370,300 L395,340 L360,375 Z"/>
<ellipse class="o L" cx="352" cy="345" rx="24" ry="30" transform="rotate(-15 352 345)"/>
</g>
<g id="p34b" transform="translate(395,1000) scale(0.2016)">
<path class="o M" d="M515,355 L610,305 L745,375 L742,445 L690,470 L600,450 L525,420 Z"/>
<path class="o L" d="M518,355 L610,307 L742,377 L650,425 Z"/>
<path class="o D" d="M560,360 L615,335 L690,375 L640,402 Z"/>
<path class="o D" d="M650,425 L742,377 L742,445 L690,470 Z"/>
<path class="o L" d="M540,420 L600,410 L680,490 L655,540 L590,500 L545,460 Z"/>
<ellipse class="o L" cx="660" cy="515" rx="22" ry="28" transform="rotate(-20 660 515)"/>
</g>
<g id="p28" transform="translate(480,1100) scale(0.2016)">
<path class="o M" d="M560,140 L665,90 L850,190 L850,410 L790,470 L740,500 L560,410 Z"/>
<path class="o L" d="M565,150 L665,92 L845,190 L750,245 Z"/>
<path class="o" fill="#8eaabb" d="M565,150 L750,245 L745,500 L560,410 Z"/>
<path class="o D" d="M750,245 L848,190 L850,410 L745,500 Z"/>
<path class="o" fill="#c3d2db" d="M600,200 L690,245 L690,300 L600,255 Z"/>
<path class="o" fill="#c3d2db" d="M590,300 L720,365 L720,440 L590,375 Z"/>
<path class="t" d="M630,200 L630,330 L700,365 M660,210 L660,340 M600,260 L740,330 M600,300 L740,370 M580,360 L730,430"/>
<path class="o D" d="M620,145 L660,125 L690,140 L650,160 Z M680,175 L720,155 L740,168 L700,188 Z"/>
<path fill="#6e8896" d="M780,260 Q840,230 845,300 L840,390 L790,430 Z"/>
</g>
<g id="p2931" transform="translate(480,1100) scale(0.2016)">
<path class="o D" d="M95,460 L185,410 L240,440 L240,570 L150,610 L95,580 Z"/>
<path class="o L" d="M97,460 L185,412 L238,440 L150,490 Z"/>
<path class="o M" d="M97,462 L150,490 L150,610 L95,580 Z"/>
<path class="t" d="M110,490 L140,505 M110,520 L140,535 M110,550 L140,565 M125,480 L125,590"/>
<path class="o D" d="M310,420 L420,370 L500,410 L505,480 L390,550 L310,500 Z"/>
<path class="o L" d="M312,420 L420,372 L498,410 L390,465 Z"/>
<path class="o M" d="M312,422 L390,465 L390,550 L310,500 Z"/>
<path class="t" d="M340,400 L420,440 M360,390 L440,430 M320,450 L385,485 M320,475 L385,510"/>
<path class="o D" d="M445,520 L550,470 L635,515 L640,590 L520,655 L445,610 Z"/>
<path class="o L" d="M447,520 L550,472 L633,515 L520,570 Z"/>
<path class="o M" d="M447,522 L520,570 L520,655 L445,610 Z"/>
<path class="t" d="M475,500 L555,540 M495,490 L575,530 M455,550 L515,585 M455,575 L515,610"/>
</g>
<g id="p21" transform="translate(120,985) scale(0.23185)">
<path class="o M" d="M30,315 L80,290 L307,150 L305,45 L335,35 L975,400 L965,610 L850,650 L840,600 L800,575 L500,755 L440,740 L200,600 L195,590 L40,500 L30,480 Z"/>
<path class="o L" d="M35,318 L307,150 L332,66 L930,392 L850,385 L490,580 Z"/>
<path class="o L" d="M307,44 L337,35 L972,398 L968,414 L332,66 Z"/>
<path class="o M" d="M307,44 L332,66 L336,148 L307,158 Z"/>
<path class="D" d="M318,90 L332,100 L334,140 L316,150 Z"/>
<path class="o D" d="M850,385 L930,392 L972,400 L965,610 L850,650 Z"/>
<path class="t" d="M880,400 L880,500 L935,480 M860,560 L930,540"/>
<path class="o" fill="#93adbd" d="M35,318 L490,580 L490,750 L200,600 L195,590 L40,500 Z"/>
<path class="o D" d="M45,340 L95,368 L95,505 L45,478 Z"/>
<path class="o D" d="M140,392 L200,425 L200,590 L140,555 Z"/>
<path class="o" fill="#658ca2" d="M490,580 L850,385 L850,560 L500,752 Z"/>
<path class="o" fill="#cbd8e1" d="M200,460 L245,450 L490,580 L445,600 Z"/>
<path class="t" d="M200,460 L200,600"/>
<path class="o" fill="#7f9fb2" d="M520,570 L715,455 L720,480 L525,590 Z"/>
<ellipse class="o" fill="#7f9fb2" cx="680" cy="405" rx="40" ry="22"/>
<path class="t" d="M560,310 L600,300 L605,285"/>
<path class="o D" d="M215,570 L290,600 L298,650 L222,620 Z"/>
<path class="o D" d="M300,650 L355,670 L360,710 L305,690 Z"/>
<path class="o D" d="M370,600 L405,615 L405,665 L372,650 Z"/>
</g>
<g id="p2223b" transform="translate(110,1100) scale(0.2016)">
<path class="o M" d="M170,280 L235,240 L380,300 L390,340 L325,390 L175,305 Z"/>
<path class="o L" d="M172,280 L235,242 L378,300 L320,335 Z"/>
<path class="o D" d="M320,335 L378,300 L390,340 L325,390 Z"/>
<path class="t" d="M190,300 L320,370 M210,292 L210,320 M240,305 L240,335 M270,320 L270,350"/>
<path class="o M" d="M430,410 L545,370 L578,385 L580,460 L490,515 L435,490 Z"/>
<path class="o L" d="M432,410 L545,372 L576,385 L470,430 Z"/>
<path class="o D" d="M470,430 L576,385 L580,460 L490,515 Z"/>
<path class="o" fill="#a9bfca" d="M432,412 L470,430 L490,515 L435,490 Z"/>
<circle class="o" cx="458" cy="480" r="8" fill="#dfe7ec"/>
</g>
<g id="p2223t" transform="translate(270,230) scale(0.14113)">
<path class="o M" d="M125,345 L210,295 L280,300 L430,385 L435,440 L350,515 L125,395 Z"/>
<path class="o L" d="M130,342 L220,297 L425,385 L340,430 Z"/>
<path class="o D" d="M125,347 L340,430 L345,515 L125,395 Z"/>
<path class="o M" d="M340,430 L425,385 L435,440 L350,515 Z"/>
<path class="t" d="M170,370 L170,410 M210,385 L210,425 M250,400 L250,440 M290,415 L290,455 M135,370 L340,450"/>
<path class="o M" d="M480,555 L610,490 L710,540 L710,600 L620,660 L612,705 L585,709 L490,640 Z"/>
<path class="o L" d="M485,552 L610,492 L705,540 L580,600 Z"/>
<path class="o D" d="M580,600 L705,540 L710,600 L620,660 Z"/>
<path class="o" fill="#8ea8b5" d="M482,557 L580,600 L585,709 L487,660 Z"/>
<path class="t" d="M570,570 L650,530"/>
<circle class="o" cx="510" cy="625" r="12" fill="#dfe7ec"/>
<path class="o L" d="M565,630 L600,625 L605,690 L570,700 Z"/>
</g>

<!--PARTS-->
<g id="dashes2" stroke="#5b87a0" stroke-width="1.3" fill="none" stroke-dasharray="14 3 4 3">
<path d="M464.6,1021.2 L474.6,1017.1 L506.9,1035.3 L540.2,1017.1"/>
<path d="M506.9,1043.3 L562.3,1013.1"/>
<path d="M539.1,1064.5 L549.2,1058.5 L526.0,1045.4 L558.3,1026.2"/>
<path d="M601.6,1072.3 L678.2,1118.7 L650.0,1134.8"/>
<path d="M529.4,1187.7 L609.0,1147.4"/>
<path d="M583.8,1184.7 L611.0,1172.6"/>
<path d="M609.0,1203.8 L615.1,1199.8 L604.0,1193.7 L625.2,1182.7"/>
<path d="M179.6,1152.0 L196.7,1141.3"/>
<path d="M228.9,1179.6 L255.2,1164.9 L239.0,1156.4 L206.8,1136.3"/>
</g>
<text transform="translate(304.3,119.9) scale(0.92,1)">4</text>
<text transform="translate(173.8,256.4) scale(0.92,1)">2</text>
<text transform="translate(292.2,329.0) scale(0.92,1)">22</text>
<text transform="translate(338.1,362.0) scale(0.92,1)">23</text>
<text transform="translate(640.9,184.5) scale(0.92,1)">37</text>
<text transform="translate(768.7,225.3) scale(0.92,1)">38</text>
<text transform="translate(562.1,360.3) scale(0.92,1)">34</text>
<text transform="translate(117.9,410.9) scale(0.92,1)">3</text>
<text transform="translate(144.5,451.5) scale(0.92,1)">1</text>
<text transform="translate(108.5,476.3) scale(0.92,1)">6</text>
<text transform="translate(109.9,519.0) scale(0.92,1)">5</text>
<text transform="translate(114.5,700.1) scale(0.92,1)">7</text>
<text transform="translate(329.9,498.9) scale(0.92,1)">3</text>
<text transform="translate(847.9,348.1) scale(0.92,1)">13</text>
<text transform="translate(751.6,400.4) scale(0.92,1)">11</text>
<text transform="translate(871.8,475.5) scale(0.92,1)">18</text>
<text transform="translate(831.6,498.2) scale(0.92,1)">15</text>
<text transform="translate(763.8,615.9) scale(0.92,1)">13</text>
<text transform="translate(834.7,615.9) scale(0.92,1)">14</text>
<text transform="translate(865.4,615.9) scale(0.92,1)">15</text>
<text transform="translate(812.5,659.3) scale(0.92,1)">12</text>
<text transform="translate(622.4,810.3) scale(0.92,1)">27</text>
<text transform="translate(708.0,887.7) scale(0.92,1)">26</text>
<text transform="translate(418.3,1094.2) scale(0.92,1)">33</text>
<text transform="translate(470.3,1113.8) scale(0.92,1)">32</text>
<text transform="translate(499.3,1140.4) scale(0.92,1)">34</text>
<text transform="translate(272.8,1165.0) scale(0.92,1)">21</text>
<text transform="translate(149.4,1202.7) scale(0.92,1)">22</text>
<text transform="translate(195.4,1238.0) scale(0.92,1)">23</text>
<text transform="translate(498.3,1258.1) scale(0.92,1)">29</text>
<text transform="translate(543.6,1245.0) scale(0.92,1)">30</text>
<text transform="translate(588.0,1262.2) scale(0.92,1)">31</text>
<text transform="translate(624.7,1242.0) scale(0.92,1)">28</text>
</svg>
</body></html>
